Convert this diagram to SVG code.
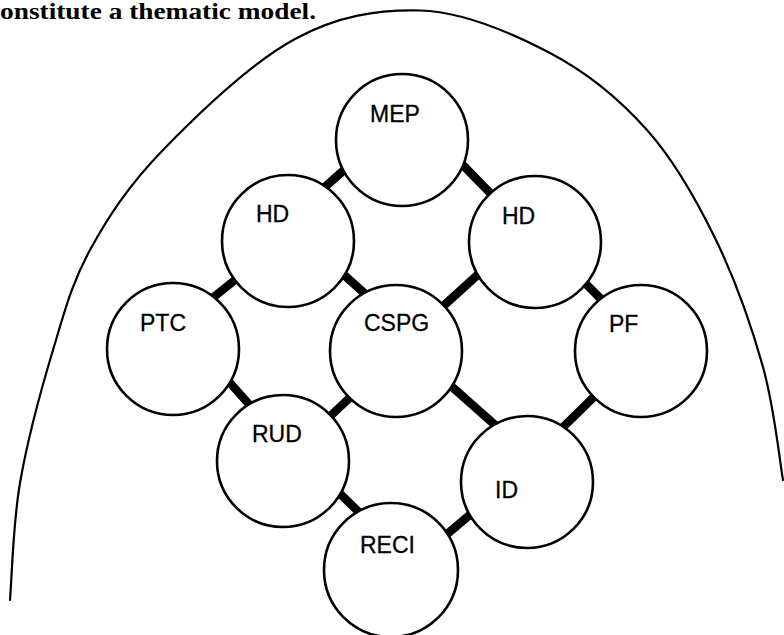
<svg xmlns="http://www.w3.org/2000/svg" width="784" height="635" viewBox="0 0 784 635">
  <style>
    .bg { fill: #ffffff; }
    .caption { font-family: "Liberation Serif", "Times New Roman", serif; font-size: 23px; font-weight: bold; fill: #000; }
    .boundary { fill: none; stroke: #000; stroke-width: 2.2; stroke-linecap: round; }
    .link { stroke: #000; stroke-width: 8.5; stroke-linecap: butt; }
    .node circle { fill: #ffffff; stroke: #000; stroke-width: 2.6; }
    .node text { font-family: "Liberation Sans", Arial, sans-serif; font-size: 23px; fill: #000; stroke: #000; stroke-width: 0.3; }
  </style>

  <rect class="bg" x="0" y="0" width="784" height="635"/>

  <!-- caption line (running text above the figure) -->
  <text class="caption" x="0" y="19" textLength="316" lengthAdjust="spacingAndGlyphs">onstitute a thematic model.</text>

  <!-- enclosing arch -->
  <path id="boundary" class="boundary"
        d="M 10,600 C 11.7,580.5 12.8,524.7 20,483
           C 27.2,441.3 41.3,388.8 53,350
           C 64.7,311.2 71.7,283.3 90,250
           C 108.3,216.7 128.8,185.2 163,150
           C 197.2,114.8 252.2,62.2 295,39
           C 337.8,15.8 377.5,9.5 420,10.5
           C 462.5,11.5 512.2,33.2 550,53
           C 587.8,72.8 619.5,99.2 647,130
           C 674.5,160.8 695.7,198.5 715,238
           C 734.3,277.5 751.7,326.7 763,367
           C 774.3,407.3 779.7,461.2 783,480"/>

  <!-- thick links between neighbouring themes -->
  <g id="connectors">
    <line class="link" x1="317" y1="194" x2="352" y2="163"/>
    <line class="link" x1="455" y1="157" x2="498" y2="201"/>
    <line class="link" x1="205" y1="304" x2="245" y2="272"/>
    <line class="link" x1="334" y1="266" x2="372" y2="300"/>
    <line class="link" x1="483" y1="270" x2="440" y2="309"/>
    <line class="link" x1="580" y1="278" x2="614" y2="312"/>
    <line class="link" x1="222" y1="374" x2="256" y2="412"/>
    <line class="link" x1="358" y1="390" x2="324" y2="422"/>
    <line class="link" x1="442" y1="378" x2="503" y2="432"/>
    <line class="link" x1="601" y1="390" x2="555" y2="435"/>
    <line class="link" x1="330" y1="484" x2="368" y2="521"/>
    <line class="link" x1="440" y1="540" x2="478" y2="508"/>
  </g>

  <g id="node-mep" class="node">
    <circle cx="402" cy="140" r="66"/>
    <text x="370" y="122">MEP</text>
  </g>
  <g id="node-hd-left" class="node">
    <circle cx="288" cy="241" r="66"/>
    <text x="256" y="222">HD</text>
  </g>
  <g id="node-hd-right" class="node">
    <circle cx="535" cy="242" r="66"/>
    <text x="502" y="224">HD</text>
  </g>
  <g id="node-ptc" class="node">
    <circle cx="173" cy="349" r="66"/>
    <text x="140" y="331">PTC</text>
  </g>
  <g id="node-cspg" class="node">
    <circle cx="396" cy="351" r="66"/>
    <text x="364" y="331">CSPG</text>
  </g>
  <g id="node-pf" class="node">
    <circle cx="641" cy="351" r="66"/>
    <text x="609" y="332">PF</text>
  </g>
  <g id="node-rud" class="node">
    <circle cx="283" cy="461" r="66"/>
    <text x="252" y="442">RUD</text>
  </g>
  <g id="node-id" class="node">
    <circle cx="527" cy="482" r="66"/>
    <text x="495" y="498">ID</text>
  </g>
  <g id="node-reci" class="node">
    <circle cx="391" cy="570" r="67"/>
    <text x="360" y="553">RECI</text>
  </g>
</svg>
